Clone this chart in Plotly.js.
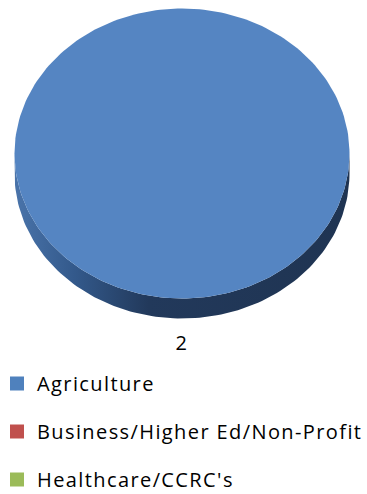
<!DOCTYPE html>
<html>
<head>
<meta charset="utf-8">
<script src="https://cdn.plot.ly/plotly-3.0.1.min.js"></script>
<style>
html,body{margin:0;padding:0;background:#fff;}
#chart{width:367px;height:494px;}
.legendtext, .textpoint text{letter-spacing:1.4px;}
</style>
</head>
<body>
<div id="chart"></div>
<script>
// ---- data ----
const categories = ["Agriculture", "Business/Higher Ed/Non-Profit", "Healthcare/CCRC's"];
const values = [2, 0, 0];
const topColors = ["#5585C2", "#C0504D", "#9BBB59"];
const legendColors = ["#4F81BD", "#C0504D", "#9BBB59"];
const sideScales = [
  [[0, "#4A74AA"], [0.18, "#33598B"], [0.4, "#22395B"], [1, "#1F3452"]],
  [[0, "#A94441"], [1, "#6E2B29"]],
  [[0, "#8AA84E"], [1, "#5B6F33"]]
];

// ---- geometry (pixels) ----
const W = 367, H = 494;
const cx = 182, cy = 153.5, rx = 167.5, ry = 145, depth = 20;
const FONT = "'Open Sans', 'Noto Sans', sans-serif";
const FS = 20;

const total = values.reduce((a, b) => a + b, 0);
const traces = [];
let theta = -Math.PI / 2;
const N = 240;

function arc(t0, t1, yoff) {
  const xs = [], ys = [];
  const n = Math.max(2, Math.ceil(N * (t1 - t0) / (2 * Math.PI)));
  for (let i = 0; i <= n; i++) {
    const t = t0 + (t1 - t0) * i / n;
    xs.push(cx + rx * Math.cos(t));
    ys.push(cy + yoff + ry * Math.sin(t));
  }
  return [xs, ys];
}

const labelPts = [];
values.forEach((v, i) => {
  if (v <= 0) return;
  const span = 2 * Math.PI * v / total;
  const t0 = theta, t1 = theta + span;
  theta = t1;
  [0, 2 * Math.PI].forEach(shift => {
    const a = Math.max(t0, shift), b = Math.min(t1, shift + Math.PI);
    if (b > a) {
      const [x1, y1] = arc(a, b, 0);
      const [x2, y2] = arc(a, b, depth);
      traces.push({
        type: "scatter", mode: "lines", hoverinfo: "skip",
        x: x1.concat(x2.reverse()), y: y1.concat(y2.reverse()),
        fill: "toself", line: {width: 0, color: "rgba(0,0,0,0)"},
        fillgradient: {type: "horizontal", colorscale: sideScales[i]},
        showlegend: false, legendgroup: "g" + i
      });
    }
  });
  const [xs, ys] = arc(t0, t1, 0);
  const full = span >= 2 * Math.PI - 1e-9;
  traces.push({
    type: "scatter", mode: "lines", hoverinfo: "skip",
    x: full ? xs : [cx].concat(xs, [cx]),
    y: full ? ys : [cy].concat(ys, [cy]),
    fill: "toself", fillcolor: topColors[i],
    line: {width: 0, color: "rgba(0,0,0,0)"},
    showlegend: false, legendgroup: "g" + i
  });
  const tm = (t0 + t1) / 2;
  const lx = cx + (rx + 26) * Math.cos(tm);
  const ly = cy + depth * Math.max(0, Math.sin(tm)) + (ry + 26) * Math.sin(tm);
  labelPts.push({x: lx, y: ly, t: String(v)});
});

traces.push({
  type: "scatter", mode: "text", hoverinfo: "skip", showlegend: false,
  x: labelPts.map(p => p.x), y: labelPts.map(p => p.y), text: labelPts.map(p => p.t),
  textposition: "middle center",
  textfont: {family: FONT, size: FS, color: "#000"}
});

categories.forEach((c, i) => {
  traces.push({
    type: "scatter", mode: "markers", name: c, x: [null], y: [null],
    marker: {symbol: "square", size: 14, color: legendColors[i], line: {width: 0}},
    legendgroup: "g" + i, showlegend: true
  });
});

const layout = {
  width: W, height: H,
  margin: {l: 0, r: 0, t: 0, b: 0, autoexpand: false},
  paper_bgcolor: "#fff", plot_bgcolor: "#fff",
  xaxis: {range: [0, W], visible: false, fixedrange: true},
  yaxis: {range: [H, 0], visible: false, fixedrange: true},
  showlegend: true,
  legend: {
    x: -3 / W, xanchor: "left", y: 1 - 364 / H, yanchor: "top",
    orientation: "v", tracegroupgap: 19,
    font: {family: FONT, size: FS, color: "#000"},
    bgcolor: "rgba(0,0,0,0)", itemclick: false
  }
};

Plotly.newPlot("chart", traces, layout, {staticPlot: true, displayModeBar: false});
</script>
</body>
</html>
